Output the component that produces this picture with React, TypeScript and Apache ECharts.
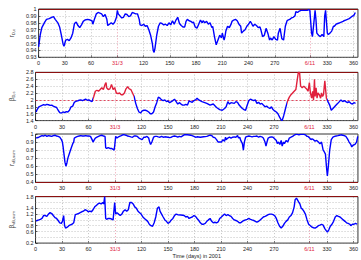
import React, { useEffect, useRef } from "react";
import * as echarts from "echarts";

// ---- Data ----
const X_TICKS = [0, 30, 60, 90, 120, 150, 180, 210, 240, 270, 310, 330, 360];
const SPECIAL_TICKS: Record<number, string> = { 90: "31/3", 310: "6/11" };

const rDcDays = [0, 1.8, 3.7, 7, 9, 12, 15, 17, 19, 22, 24, 26, 28, 29, 31, 33, 35, 37, 39, 41, 43, 45, 47, 49, 51, 53, 56, 59, 61, 62, 64, 66, 68, 70, 72, 74, 76, 78, 79, 81, 83, 85, 87, 89, 90, 91, 93, 95, 97, 99, 101, 103, 105, 107, 109, 111, 113, 115, 116, 118, 120, 122, 124, 126, 128, 130, 131, 132, 133, 135, 137, 139, 141, 143, 145, 147, 149, 151, 153, 155, 157, 159, 161, 163, 165, 167,
  168.5, 170, 172, 174, 176, 177, 179, 181, 183, 185, 187, 188, 190, 192, 194, 196, 198, 199, 201, 203, 205, 207, 209, 210, 212, 213, 214, 216, 218, 220, 221, 223, 225, 227, 229, 231, 232, 234, 236, 238, 240, 242, 243, 245, 247, 249, 251, 253, 254, 256, 258, 260, 262, 264, 265, 267, 269, 271, 273, 274, 276, 278, 280, 282, 284, 285, 287, 289, 291, 293, 294, 296, 298, 300, 302, 304, 307, 309, 310, 312, 313, 315, 316, 317, 318, 320, 322, 324, 326, 327, 328, 330, 331, 333, 335, 337, 338, 340, 342, 344, 346, 348, 349, 351, 353, 355, 357, 359, 360, 362];
const rDcValues = [0.945, 0.962, 0.973, 0.981, 0.985, 0.986, 0.988, 0.989, 0.985, 0.98, 0.974, 0.962, 0.949, 0.946, 0.955, 0.956, 0.954, 0.958, 0.965, 0.979, 0.981, 0.976, 0.973, 0.977, 0.982, 0.984, 0.985, 0.984, 0.983, 0.978, 0.986, 0.993, 0.995, 0.994, 0.993, 0.989, 0.992, 0.985, 0.976, 0.978, 0.98, 0.978, 0.981, 0.988, 0.998, 0.993, 0.99, 0.987, 0.988, 0.993, 0.992, 0.989, 0.99, 0.995, 0.994, 0.993, 0.993, 0.985, 0.977, 0.976, 0.978, 0.975, 0.976, 0.97, 0.962, 0.95, 0.94, 0.937, 0.943, 0.962, 0.975, 0.98, 0.979, 0.977, 0.978, 0.976, 0.98, 0.977, 0.983, 0.978, 0.984, 0.988, 0.979, 0.976, 0.974, 0.974,
  0.982, 0.985, 0.983, 0.982, 0.98, 0.981, 0.974, 0.972, 0.978, 0.984, 0.98, 0.983, 0.98, 0.982, 0.978, 0.98, 0.973, 0.975, 0.96, 0.948, 0.955, 0.962, 0.958, 0.965, 0.955, 0.96, 0.968, 0.975, 0.973, 0.978, 0.982, 0.984, 0.985, 0.983, 0.978, 0.975, 0.965, 0.968, 0.97, 0.975, 0.978, 0.982, 0.98, 0.975, 0.978, 0.976, 0.973, 0.974, 0.97, 0.96, 0.962, 0.972, 0.965, 0.955, 0.958, 0.955, 0.96, 0.956, 0.955, 0.965, 0.972, 0.957, 0.955, 0.975, 0.983, 0.984, 0.985, 0.987, 0.988, 0.99, 0.996, 0.995, 0.997, 0.998, 0.998, 0.998, 0.998, 0.999, 0.998, 0.965, 0.96, 0.985, 0.998, 0.985, 0.965, 0.962, 0.96, 0.963, 0.96, 0.99, 0.998, 0.965, 0.963, 0.965, 0.968, 0.975, 0.975, 0.978, 0.979, 0.98, 0.981, 0.982, 0.983, 0.984, 0.985, 0.986, 0.988, 0.99, 0.99, 0.995];

const betaDcDays = [0.7, 1.8, 3.7, 5.5, 7.3, 9.1, 11, 12.8, 14.6, 16.5, 18.3, 20.1, 22, 23.8, 25.6, 27.4, 29.3, 31.1, 32.9, 34.8, 36.6, 38.4, 40.2, 42.1, 43.9, 45.7, 47.6, 49.4, 51.2, 53.1, 54.9, 56.7, 58.5, 60.4, 62.2, 64, 65.9, 67.7, 69.5, 71.3, 73.2, 75, 76.8, 78.7, 79.8, 80.5, 82.3, 84.2, 86, 87.8, 89.6, 91.5, 93.3, 95.1, 97, 98.8, 100.6, 102.4, 104.3, 106.1, 107.9, 109.8, 111.6, 113.4, 115.3, 117.1, 118.9, 120.7, 122.6, 124.4, 126.2, 128.1, 129.9, 131.7, 133.6, 135.4, 137.2, 139, 140.9, 142.7, 144.5, 146.4, 148.2, 150, 151.8, 153.7, 155.5, 157.3, 159.2, 161, 162.8, 164.7, 166.5,
  168.3, 170.1, 172, 173.8, 175.6, 177.4, 179.3, 181.1, 182.9, 184.8, 188.4, 193.9, 197.6, 201.2, 204.9, 208.5, 211.4, 214, 215.8, 217.7, 219.5, 221.3, 225, 226.8, 228.7, 230.5, 232.3, 234.2, 236, 237.8, 239.7, 241.5, 243.3, 245.1, 247, 248.8, 250.6, 252.5, 254.3, 256.1, 257.9, 259.8, 261.6, 263.4, 265.3, 267.1, 268.9, 270.7, 272.6, 274.4, 276.3, 278.1, 279.2, 281, 282.5, 284, 285.5, 287.3, 289.2, 291, 292.8, 294.7, 296.4, 297.5, 298.9, 300.1, 301.9, 303.7, 305.5, 307.4, 308.5, 310, 311.2, 312.6, 313.7, 314.7, 315.8, 316.5, 317.6, 318.7, 319.8, 321.3, 322.7, 323.8, 324.9, 326, 327.5, 329.3, 331.1, 333, 334.8, 336.7, 338.5, 340.3, 342.2, 344, 345.8, 347.7, 349.5, 351.3, 353.2, 355, 356.9, 358.7, 360.5, 362.3];
const betaDcValues = [1.65, 1.72, 1.8, 1.82, 1.84, 1.86, 1.85, 1.87, 1.86, 1.84, 1.85, 1.82, 1.8, 1.78, 1.7, 1.63, 1.62, 1.65, 1.63, 1.66, 1.65, 1.7, 1.8, 1.82, 1.93, 1.96, 1.97, 1.99, 2.0, 1.98, 2.0, 2.02, 1.99, 2.0, 1.97, 1.95, 2.1, 2.25, 2.28, 2.25, 2.3, 2.35, 2.3, 2.45, 2.5, 2.35, 2.3, 2.32, 2.45, 2.3, 2.35, 2.2, 2.18, 2.2, 2.15, 2.15, 2.2, 2.32, 2.38, 2.32, 2.3, 2.2, 2.1, 1.9, 1.75, 1.65, 1.62, 1.68, 1.7, 1.7, 1.68, 1.65, 1.6, 1.6, 1.65, 1.8, 1.92, 2.08, 2.05, 2.0, 1.98, 2.0, 1.95, 1.97, 1.92, 1.95, 1.98, 2.02, 1.95, 1.88, 1.92, 1.88, 1.85,
  1.85, 1.87, 1.85, 1.97, 1.95, 1.93, 1.98, 2.0, 2.05, 2.0, 1.95, 1.9, 1.85, 1.88, 1.78, 1.72, 1.7, 1.75, 1.8, 1.95, 1.88, 1.92, 1.9, 1.95, 1.93, 1.85, 1.8, 1.75, 1.72, 1.7, 1.85, 1.98, 2.02, 2.0, 1.98, 2.0, 1.9, 1.93, 1.88, 1.9, 1.85, 1.8, 1.82, 1.78, 1.75, 1.8, 1.72, 1.68, 1.65, 1.6, 1.5, 1.42, 1.4, 1.55, 1.7, 1.85, 1.98, 2.08, 2.15, 2.2, 2.25, 2.3, 2.6, 2.8, 2.8, 2.4, 2.35, 2.4, 2.35, 2.3, 2.25, 2.5, 2.2, 2.05, 2.25, 2.0, 2.6, 2.1, 2.35, 2.05, 2.2, 2.15, 2.05, 2.2, 2.1, 2.15, 2.55, 2.05, 1.95, 1.85, 1.7, 1.75, 1.8, 1.85, 1.9, 1.95, 2.0, 1.95, 1.98, 1.95, 1.92, 1.95, 1.9, 1.88, 1.92, 1.9];

const rVbDays = [0.7, 3.7, 5.5, 7.3, 9.1, 11, 12.8, 14.6, 16.5, 18.3, 20.1, 22, 23.8, 25.6, 27.4, 29.3, 30.4, 31.1, 32.2, 33.3, 34.4, 35.5, 36.6, 38.4, 40.2, 42.1, 43.2, 43.9, 45.7, 47.6, 49.4, 51.2, 53.1, 54.9, 56.7, 58.5, 60.4, 62.2, 64, 65.1, 66.6, 67.7, 69.5, 71.3, 73.2, 75, 76.8, 78.7, 79.4, 80.5, 82.3, 84.2, 86, 87.8, 88.9, 89.6, 90.7, 92.2, 93.3, 95.1, 97, 98.8, 100.6, 102.4, 104.3, 106.1, 107.9, 109.8, 111.6, 113.4, 115.3, 117.1, 118.9, 120.7, 122.6, 124.4, 126.2, 128.1, 129.2, 130.3, 131.7, 133.6, 135.4, 137.2, 139, 140.9, 142.7, 144.5, 146.4, 150, 151.8, 153.7, 155.5, 157.3, 159.2, 161, 162.8, 164.7,
  168.3, 172, 175.6, 179.3, 181.1, 182.9, 186.6, 190.2, 193.9, 197.6, 199.4, 201.2, 203, 204.9, 206.7, 208.5, 210.4, 212.2, 214, 215.1, 215.8, 217.7, 219.5, 221.3, 223.2, 225, 226.8, 228.7, 229.8, 231.2, 232.3, 234.2, 235.3, 236.4, 237.8, 239.7, 241.5, 243.3, 245.1, 247, 248.8, 250.6, 252.5, 254.3, 256.1, 257.9, 259.8, 260.9, 262, 263.4, 265.3, 267.1, 268.9, 270.7, 272.6, 273.7, 275.1, 276.6, 278.1, 279.2, 280.7, 281.8, 283.6, 285.5, 287.3, 289.2, 291, 292.8, 294.7, 296.4, 298.2, 300.1, 303.7, 305.5, 307.4, 308.5, 310.3, 311.9, 313, 314.7, 316.5, 318.3, 320.2, 322, 323.8, 325.6, 326.8, 328.2, 329.3, 330.4, 331.5, 333, 334.8, 336.7, 338.5, 340.3, 342.2, 344, 345.8, 347.7, 349.5, 351.3, 353.2, 355, 356.9, 358, 359.4, 361.6, 363.4, 364.8];
const rVbValues = [0.95, 0.96, 0.97, 0.98, 0.975, 0.985, 0.97, 0.98, 0.975, 0.97, 0.98, 0.985, 0.975, 0.97, 0.96, 0.93, 0.9, 0.85, 0.75, 0.65, 0.6, 0.64, 0.7, 0.76, 0.82, 0.88, 0.9, 0.95, 0.96, 0.97, 0.975, 0.98, 0.975, 0.975, 0.98, 0.975, 0.975, 0.97, 0.93, 0.9, 0.93, 0.95, 0.96, 0.97, 0.98, 0.985, 0.975, 0.97, 0.83, 0.82, 0.83, 0.82, 0.82, 0.81, 0.8, 0.85, 0.97, 0.95, 0.96, 0.97, 0.98, 0.99, 0.99, 0.985, 0.975, 0.97, 0.965, 0.96, 0.975, 0.975, 0.97, 0.95, 0.94, 0.93, 0.96, 0.96, 0.97, 0.95, 0.9, 0.87, 0.9, 0.96, 0.97, 0.97, 0.965, 0.96, 0.97, 0.96, 0.965, 0.96, 0.955, 0.96, 0.97, 0.975, 0.97, 0.96, 0.97, 0.965,
  0.99, 0.99, 0.985, 0.97, 0.96, 0.965, 0.96, 0.965, 0.97, 0.985, 0.98, 0.96, 0.955, 0.93, 0.9, 0.9, 0.9, 0.93, 0.91, 0.96, 0.93, 0.95, 0.96, 0.95, 0.96, 0.965, 0.96, 0.98, 0.95, 0.96, 0.92, 0.88, 0.8, 0.9, 0.96, 0.97, 0.975, 0.97, 0.965, 0.97, 0.97, 0.975, 0.96, 0.97, 0.965, 0.95, 0.9, 0.85, 0.9, 0.95, 0.96, 0.965, 0.96, 0.94, 0.92, 0.88, 0.9, 0.87, 0.92, 0.85, 0.9, 0.88, 0.92, 0.9, 0.95, 0.96, 0.97, 0.985, 0.995, 0.995, 0.99, 0.995, 0.995, 0.99, 0.97, 0.97, 0.95, 0.93, 0.94, 0.93, 0.91, 0.92, 0.9, 0.88, 0.9, 0.8, 0.78, 0.75, 0.6, 0.48, 0.6, 0.8, 0.93, 0.96, 0.97, 0.975, 0.98, 0.985, 0.99, 0.985, 0.98, 0.97, 0.94, 0.9, 0.87, 0.84, 0.86, 0.87, 0.9, 0.97];

const betaVbDays = [0.7, 1.8, 3.7, 5.5, 7.3, 9.1, 11, 12.8, 14.6, 16.5, 18.3, 20.1, 22, 23.8, 25.6, 27.4, 29.3, 30.4, 31.8, 32.9, 34, 35.9, 37.7, 39.5, 41.3, 43.2, 45, 46.8, 48.7, 50.5, 52.3, 54.2, 56, 57.8, 59.6, 61.5, 63.3, 65.1, 67, 68.8, 70.6, 72.4, 74.3, 76.1, 77.2, 78.3, 79.4, 80.5, 82.3, 84.2, 86, 87.8, 89.6, 90.7, 92.2, 94, 95.9, 97.7, 99.5, 101.4, 103.2, 105, 106.8, 108.7, 110.5, 112.3, 114.2, 116, 117.8, 119.6, 121.5, 123.3, 125.1, 127, 128.8, 130.6, 132.5, 134.3, 136.1, 137.9, 139.8, 140.9, 142.7, 144.5, 146.4, 148.2, 150, 151.8, 153.7, 155.5, 157.3, 159.2, 161, 164.7,
  168.3, 170.1, 172, 173.8, 175.6, 177.4, 179.3, 181.1, 182.9, 184.8, 186.6, 188.4, 190.2, 192.1, 193.9, 195.7, 197.6, 199.4, 201.2, 203, 204.9, 206.7, 208.5, 210.4, 212.2, 214, 215.8, 217.7, 219.5, 221.3, 223.2, 225, 226.8, 228.7, 230.5, 232.3, 234.2, 236, 237.8, 239.7, 241.5, 243.3, 245.1, 247, 248.8, 250.6, 252.5, 254.3, 256.1, 257.9, 259.8, 261.6, 263.4, 265.3, 267.1, 268.9, 270.7, 272.6, 274.4, 276.3, 278.1, 279.9, 281.8, 283.6, 285.5, 287.3, 289.2, 291, 292.8, 293.9, 295.4, 296.4, 298.2, 299.3, 300.8, 301.9, 303.7, 305.5, 307.4, 309.2, 311.2, 313, 314.7, 316.5, 318.3, 320.2, 322, 323.8, 325.6, 327.5, 329.3, 330.4, 331.9, 333.7, 335.6, 337.4, 339.3, 341.1, 342.9, 344.7, 346.6, 348.4, 350.3, 352.1, 353.9, 355.8, 356.9, 358.7, 360.5, 362.3, 364.1];
const betaVbValues = [0.95, 0.98, 1.0, 1.02, 1.05, 1.15, 1.15, 1.12, 1.2, 1.25, 1.22, 1.15, 1.08, 1.05, 0.98, 0.9, 0.88, 0.95, 1.15, 0.8, 0.72, 0.75, 0.8, 0.83, 0.85, 0.9, 1.18, 1.2, 1.22, 1.25, 1.28, 1.3, 1.35, 1.33, 1.28, 1.3, 1.28, 1.35, 1.45, 1.5, 1.55, 1.58, 1.55, 1.6, 1.55, 1.8, 1.05, 1.02, 1.05, 1.05, 1.03, 1.0, 1.6, 1.2, 1.25, 1.2, 1.15, 1.2, 1.3, 1.35, 1.3, 1.35, 1.6, 1.6, 1.55, 1.45, 1.4, 1.3, 1.25, 1.2, 1.1, 1.05, 1.0, 0.95, 0.85, 0.8, 0.78, 0.9, 1.1, 1.4, 1.45, 1.3, 1.2, 1.1, 1.0, 0.95, 0.88, 0.92, 1.0, 1.05, 1.15, 1.2, 1.18, 1.17,
  1.15, 1.1, 1.12, 1.05, 1.08, 1.1, 1.15, 1.12, 1.05, 0.98, 0.9, 0.85, 0.85, 0.88, 0.95, 1.0, 1.05, 0.95, 0.9, 0.92, 0.9, 0.93, 1.05, 1.1, 1.15, 1.2, 1.15, 1.18, 1.15, 1.12, 1.05, 1.0, 0.98, 0.95, 0.9, 0.9, 0.95, 0.98, 1.0, 1.02, 1.05, 1.02, 1.0, 0.98, 0.95, 0.92, 0.95, 1.0, 1.05, 1.1, 1.12, 1.15, 1.18, 1.2, 1.2, 1.18, 1.15, 1.05, 0.9, 0.78, 0.72, 0.78, 0.88, 0.95, 1.0, 1.1, 1.15, 1.25, 1.45, 1.7, 1.75, 1.7, 1.6, 1.55, 1.4, 1.38, 1.3, 1.2, 1.0, 0.85, 0.8, 0.75, 0.73, 0.72, 0.75, 0.8, 0.82, 0.85, 0.82, 0.7, 0.62, 0.58, 0.65, 0.78, 0.85, 0.95, 1.1, 1.15, 1.12, 1.1, 1.05, 1.0, 0.95, 0.9, 0.88, 0.85, 0.8, 0.85, 0.85, 0.88, 0.85];

// Red-highlighted day ranges in the β_D,c panel
const redRanges = [[65, 112], [284.5, 329.5]];

const FONT = "Liberation Sans, Arial, sans-serif";
const BLUE = "#0000ff";
const RED = "#e0203c";

type Panel = {
  days: number[]; values: number[]; min: number; max: number; interval: number;
  top: number; name: string; sub: string; dec: number; refs: { y: number; kind: "edge" | "dash" }[];
};

const panels: Panel[] = [
  { days: rDcDays, values: rDcValues, min: 0.93, max: 1, interval: 0.01, top: 9, name: "r", sub: "D,c", dec: 2, refs: [{ y: 1, kind: "edge" }] },
  { days: betaDcDays, values: betaDcValues, min: 1.4, max: 2.8, interval: 0.2, top: 72.3, name: "β", sub: "D,c", dec: 1, refs: [{ y: 2.8, kind: "edge" }, { y: 2, kind: "dash" }] },
  { days: rVbDays, values: rVbValues, min: 0.4, max: 1, interval: 0.1, top: 134, name: "r", sub: "vB,num", dec: 1, refs: [{ y: 0.4, kind: "edge" }] },
  { days: betaVbDays, values: betaVbValues, min: 0.2, max: 1.8, interval: 0.2, top: 196.7, name: "β", sub: "vB,num", dec: 1, refs: [{ y: 1.8, kind: "edge" }] },
];

export default function App() {
  const ref = useRef<HTMLDivElement>(null);
  useEffect(() => {
    if (!ref.current) return;
    const chart = echarts.init(ref.current, undefined, { renderer: "svg" });
    const H = 48.3;
    const grids = panels.map((p) => ({
      left: 27, width: 332, top: p.top, height: H, show: true,
      borderColor: "#000", borderWidth: 0.8, backgroundColor: "transparent",
    }));
    const xAxes = panels.map((p, i) => ({
      gridIndex: i, type: "value", min: 0, max: 365,
      axisLine: { show: false },
      axisTick: { show: true, inside: true, length: 2, customValues: X_TICKS, lineStyle: { color: "#000", width: 0.6 } },
      axisLabel: {
        customValues: X_TICKS, fontSize: 5.5, margin: 3, color: "#222", fontFamily: FONT,
        showMinLabel: true, showMaxLabel: true, hideOverlap: false,
        formatter: (v: number) => (SPECIAL_TICKS[v] ? `{r|${SPECIAL_TICKS[v]}}` : String(v)),
        rich: { r: { color: RED, fontSize: 5.5, fontFamily: FONT } },
      },
      splitLine: { show: false },
      name: i === 3 ? "Time (days) in 2001" : "",
      nameLocation: "middle", nameGap: 9,
      nameTextStyle: { fontSize: 5.5, color: "#222", fontFamily: FONT },
    }));
    const yAxes = panels.map((p, i) => ({
      gridIndex: i, type: "value", min: p.min, max: p.max, interval: p.interval,
      axisLine: { show: false },
      axisTick: { show: true, inside: true, length: 2, lineStyle: { color: "#000", width: 0.6 } },
      axisLabel: {
        fontSize: 5.5, margin: 2, color: "#222", fontFamily: FONT,
        showMinLabel: true, showMaxLabel: true, hideOverlap: false,
        formatter: (v: number) => String(parseFloat(v.toFixed(p.dec))),
      },
      splitLine: { show: true, lineStyle: { color: "#9a9a9a", type: [1, 2], width: 0.6 } },
      name: `{b|${p.name}}{s|${p.sub}}`,
      nameLocation: "middle", nameRotate: 90, nameGap: 17,
      nameTextStyle: {
        color: "#333",
        rich: {
          b: { fontSize: 6.5, fontFamily: FONT, color: "#333" },
          s: { fontSize: 4, fontFamily: FONT, color: "#333", verticalAlign: "bottom", padding: [3, 0, 0, 0] },
        },
      },
    }));
    const series = panels.map((p, i) => ({
      type: "line", xAxisIndex: i, yAxisIndex: i, z: 3,
      data: p.days.map((d, k) => [d, p.values[k]]),
      showSymbol: false, symbol: "none",
      lineStyle: i === 1 ? { width: 1.4 } : { color: BLUE, width: 1.4 },
      itemStyle: i === 1 ? {} : { color: BLUE },
      markLine: {
        z: 1, symbol: "none", silent: true, animation: false, label: { show: false },
        data: [
          ...X_TICKS.filter((v) => v > 0).map((v) => ({
            xAxis: v,
            lineStyle: { color: SPECIAL_TICKS[v] ? "#e0607a" : "#9a9a9a", type: [1, 2], width: 0.6 },
          })),
          ...p.refs.map((r) => ({
            yAxis: r.y,
            lineStyle: r.kind === "edge"
              ? { color: "#8b1010", type: "solid", width: 1 }
              : { color: RED, type: [2, 2], width: 0.8 },
          })),
        ],
      },
    }));
    chart.setOption({
      animation: false,
      grid: grids,
      xAxis: xAxes,
      yAxis: yAxes,
      visualMap: {
        type: "piecewise", show: false, seriesIndex: 1, dimension: 0,
        pieces: redRanges.map(([a, b]) => ({ gte: a, lte: b, color: RED })),
        outOfRange: { color: BLUE },
      },
      series,
    });
    return () => chart.dispose();
  }, []);
  return (
    <div
      ref={ref}
      style={{ position: "fixed", left: 0, top: 0, width: 361, height: 260, background: "#fff" }}
    />
  );
}
